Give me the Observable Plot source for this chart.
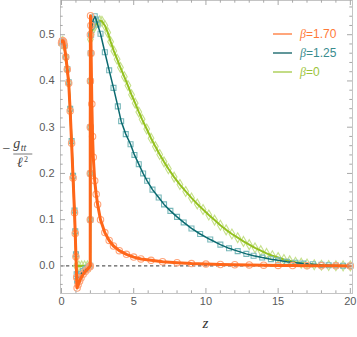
<!DOCTYPE html>
<html><head><meta charset="utf-8">
<script src="https://cdn.jsdelivr.net/npm/d3@7"></script>
<script src="https://cdn.jsdelivr.net/npm/@observablehq/plot@0.6"></script>
<style>body{margin:0;background:#fff} svg{display:block}</style>
</head><body><div id="chart"></div>
<script>
// [z, -g_tt/l^2] pairs
const beta170 = [[0,0.482],[0.05,0.487],[0.1,0.487],[0.15,0.484],[0.2,0.476],[0.3,0.452],[0.4,0.425],[0.5,0.395],[0.6,0.335],[0.7,0.265],[0.8,0.19],[0.9,0.115],[0.95,0.07],[1.0,0.02],[1.05,-0.025],[1.08,-0.048],[1.15,-0.041],[1.25,-0.033],[1.35,-0.026],[1.5,-0.018],[1.65,-0.012],[1.8,-0.007],[1.95,-0.002],[1.99,0],[1.99,0.1],[1.99,0.2],[1.99,0.3],[2.0,0.4],[2.0,0.5],[2.01,0.541],[2.03,0.52],[2.05,0.46],[2.1,0.35],[2.15,0.28],[2.2,0.235],[2.3,0.184],[2.4,0.155],[2.5,0.133],[2.7,0.1],[3.0,0.072],[3.3,0.055],[3.6,0.043],[4.0,0.033],[4.5,0.025],[5.0,0.019],[5.5,0.015],[6.2,0.012],[7.0,0.009],[8.0,0.007],[9.0,0.005],[10,0.004],[11,0.003],[12,0.0025],[13,0.002],[14,0.0015],[15,0.001],[16,0.0008],[17,0.0005],[18,0.0003],[19,0.0001],[20,0]];
const beta125 = [[0,0.482],[0.05,0.486],[0.1,0.486],[0.15,0.483],[0.2,0.476],[0.3,0.452],[0.4,0.426],[0.5,0.397],[0.6,0.34],[0.7,0.27],[0.8,0.195],[0.9,0.12],[0.95,0.075],[1.0,0.025],[1.05,-0.018],[1.08,-0.032],[1.15,-0.028],[1.25,-0.022],[1.35,-0.017],[1.5,-0.011],[1.65,-0.007],[1.8,-0.004],[1.95,-0.001],[1.99,0],[2.0,0.1],[2.0,0.2],[2.0,0.3],[2.0,0.4],[2.02,0.46],[2.05,0.5],[2.1,0.518],[2.2,0.533],[2.3,0.54],[2.4,0.533],[2.5,0.522],[2.7,0.502],[3.0,0.462],[3.3,0.423],[3.6,0.385],[3.9,0.345],[4.13,0.313],[4.45,0.285],[4.78,0.263],[5.05,0.24],[5.35,0.22],[5.65,0.2],[5.93,0.184],[6.3,0.165],[6.73,0.148],[7.1,0.133],[7.54,0.119],[8.0,0.106],[8.46,0.094],[9.0,0.081],[9.6,0.069],[10.3,0.057],[11.0,0.046],[11.6,0.038],[12.2,0.032],[12.8,0.026],[13.3,0.022],[13.9,0.018],[14.5,0.0145],[15.0,0.012],[15.6,0.009],[16.2,0.007],[16.75,0.005],[17.4,0.0035],[18.0,0.0022],[18.5,0.0015],[19.0,0.001],[19.5,0.0005],[20.0,0]];
const beta0 = [[0,0.481],[0.05,0.485],[0.1,0.485],[0.15,0.482],[0.2,0.475],[0.3,0.451],[0.4,0.425],[0.5,0.396],[0.6,0.338],[0.7,0.268],[0.8,0.193],[0.9,0.118],[0.95,0.072],[1.0,0.02],[1.03,0],[1.2,0],[1.4,0],[1.6,0],[1.8,0],[1.99,0],[2.0,0.1],[2.0,0.2],[2.0,0.3],[2.0,0.4],[2.0,0.49],[2.05,0.5],[2.1,0.507],[2.2,0.514],[2.35,0.521],[2.5,0.527],[2.65,0.53],[2.8,0.529],[3.0,0.52],[3.2,0.505],[3.4,0.485],[3.62,0.465],[3.85,0.447],[4.08,0.429],[4.35,0.409],[4.6,0.39],[4.85,0.37],[5.1,0.352],[5.35,0.333],[5.58,0.317],[5.9,0.296],[6.2,0.276],[6.5,0.258],[6.8,0.241],[7.1,0.225],[7.4,0.21],[7.8,0.192],[8.2,0.176],[8.6,0.161],[9.0,0.147],[9.4,0.134],[9.8,0.122],[10.2,0.11],[10.6,0.099],[11.0,0.088],[11.4,0.078],[11.8,0.069],[12.2,0.061],[12.6,0.053],[13.0,0.046],[13.4,0.039],[13.8,0.033],[14.2,0.027],[14.6,0.022],[15.0,0.018],[15.4,0.014],[15.8,0.011],[16.2,0.008],[16.6,0.006],[17.0,0.004],[17.5,0.0025],[18.0,0.0015],[18.5,0.0008],[19.0,0.0004],[19.5,0.0001],[20.0,0]];

const legendLabels = ["1.70", "1.25", "0"];
const xMajor = [0, 5, 10, 15, 20];
const xMinor = [1,2,3,4,6,7,8,9,11,12,13,14,16,17,18,19];
const yMajor = [0, 0.1, 0.2, 0.3, 0.4, 0.5];
const yMinor = [-0.04,-0.02,0.02,0.04,0.06,0.08,0.12,0.14,0.16,0.18,0.22,0.24,0.26,0.28,0.32,0.34,0.36,0.38,0.42,0.44,0.46,0.48,0.52,0.54,0.56];

const W = 357, H = 337, mL = 60, mR = 5, mT = 0, mB = 44;
const plotW = W - mL - mR, plotH = H - mT - mB;
const toRows = a => a.map(([z, g]) => ({z, g}));
const o = toRows(beta170), t = toRows(beta125), gr = toRows(beta0);

const series = [
  {data: gr, line: "#94c11f", lw: 2, mk: "#c6e08c", sym: "diamond", r: 3},
  {data: t, line: "#0b6a70", lw: 1.5, mk: "#78b8ba", sym: "square", r: 2.8},
  {data: o, line: "#ff6619", lw: 3, mk: "#ffa47a", sym: "circle", r: 3.2}
];

const seriesMarks = series.flatMap(s => [
  Plot.dot(s.data, {x: "z", y: "g", symbol: s.sym, r: s.r, stroke: s.mk, fill: "none", strokeWidth: 1.1}),
  Plot.line(s.data, {x: "z", y: "g", stroke: s.line, strokeWidth: s.lw})
]);

const tickCol = "#a8a8a8";
const chart = Plot.plot({
  width: W, height: H, marginLeft: mL, marginRight: mR, marginTop: mT, marginBottom: mB,
  x: {domain: [-0.07, 20.15], label: null},
  y: {domain: [-0.0597, 0.574], label: null},
  style: {fontFamily: "'Liberation Sans', Arial, sans-serif", fontSize: "11px", background: "white", overflow: "visible"},
  marks: [
    Plot.ruleY([0], {stroke: "#333", strokeDasharray: "3.3,2.7", strokeWidth: 1}),
    ...seriesMarks,
    Plot.frame({stroke: "#c4c4c4"}),
    Plot.tickX(xMajor, {x: d => d, insetTop: plotH - 5, stroke: tickCol}),
    Plot.tickX(xMinor, {x: d => d, insetTop: plotH - 2.7, stroke: tickCol}),
    Plot.tickX(xMajor, {x: d => d, insetBottom: plotH - 5, stroke: tickCol}),
    Plot.tickX(xMinor, {x: d => d, insetBottom: plotH - 2.7, stroke: tickCol}),
    Plot.tickY(yMajor, {y: d => d, insetRight: plotW - 5, stroke: tickCol}),
    Plot.tickY(yMinor, {y: d => d, insetRight: plotW - 2.7, stroke: tickCol}),
    Plot.tickY(yMajor, {y: d => d, insetLeft: plotW - 5, stroke: tickCol}),
    Plot.tickY(yMinor, {y: d => d, insetLeft: plotW - 2.7, stroke: tickCol}),
    Plot.axisX({ticks: xMajor, tickSize: 0, tickPadding: 4, fill: "#5a5a5a", fontSize: 11, label: null}),
    Plot.axisY({ticks: yMajor, tickSize: 0, tickPadding: 6, tickFormat: d3.format(".1f"), fill: "#5a5a5a", fontSize: 11, label: null})
  ]
});
document.getElementById("chart").appendChild(chart);

// legend & axis titles
const svg = d3.select(chart);
const legSw = ["#ffa67c", "#0b5f63", "#c3dc86"];
const legTx = ["#ff7a38", "#3a8c8e", "#9cc43a"];
legendLabels.forEach((lab, i) => {
  const y = 34 + i * 19;
  svg.append("line").attr("x1", 273).attr("x2", 292).attr("y1", y).attr("y2", y)
    .attr("stroke", legSw[i]).attr("stroke-width", i === 1 ? 1.3 : 2);
  const tx = svg.append("text").attr("x", 300).attr("y", y + 4).attr("text-anchor", "start")
    .attr("fill", legTx[i]).attr("font-size", 12)
    .attr("font-family", "'Liberation Sans', Arial, sans-serif");
  tx.append("tspan").attr("font-style", "italic").attr("font-family", "'Liberation Serif', serif").text("β");
  tx.append("tspan").text("=" + lab);
});

const serif = "'Liberation Serif', 'DejaVu Serif', serif";
const ylab = svg.append("g").attr("fill", "#444").attr("font-family", serif).attr("text-anchor", "start");
ylab.append("text").attr("x", 6.5).attr("y", 153).attr("text-anchor", "middle").attr("font-size", 14).text("−");
ylab.append("text").attr("x", 13.3).attr("y", 148).attr("font-size", 14).attr("font-style", "italic").text("g");
ylab.append("text").attr("x", 20.8).attr("y", 151).attr("font-size", 10).attr("font-style", "italic").text("tt");
svg.append("line").attr("x1", 13.3).attr("x2", 32.3).attr("y1", 154).attr("y2", 154).attr("stroke", "#555").attr("stroke-width", 0.8);
ylab.append("text").attr("x", 17).attr("y", 166.5).attr("font-size", 14).attr("font-style", "italic").text("ℓ");
ylab.append("text").attr("x", 24).attr("y", 161.5).attr("font-size", 8).text("2");
svg.append("text").attr("x", 205.5).attr("y", 328).attr("text-anchor", "middle")
  .attr("font-family", serif).attr("font-style", "italic").attr("font-size", 15).attr("fill", "#333").text("z");
</script>
</body></html>
